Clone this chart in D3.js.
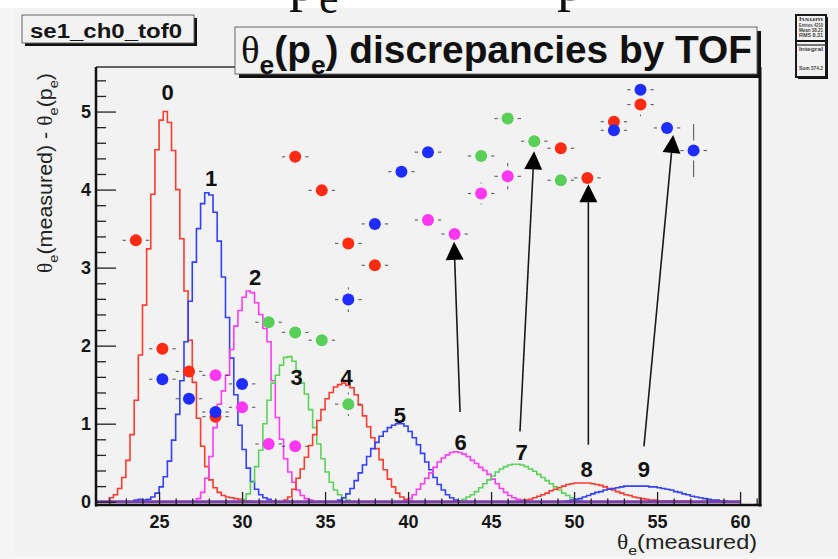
<!DOCTYPE html>
<html>
<head>
<meta charset="utf-8">
<script src="https://cdn.jsdelivr.net/npm/d3@7"></script>
<style>
  body { margin: 0; background: #ffffff; }
  svg { display: block; }
</style>
</head>
<body>
<svg id="chart" width="838" height="559"></svg>
<script>
// ---------------------------------------------------------------
// Data
// ---------------------------------------------------------------

// theta_e(measured) distributions, one histogram per TOF paddle group
const binWidth = 0.25;
const histStart = [22.0, 23.5, 27.25, 30.0, 32.5, 35.75, 39.75, 43.0, 46.75, 49.5];
const hist0 = [0.05,0.09,0.17,0.31,0.53,0.86,1.30,1.88,2.52,3.24,3.94,4.51,4.89,5.00,4.86,4.50,4.00,3.37,2.70,2.07,1.53,1.07,0.71,0.45,0.28,0.18,0.12,0.08,0.06,0.05,0.04,0.03,0.02,0.01];
const hist1 = [0.02,0.03,0.02,0.03,0.06,0.11,0.19,0.32,0.52,0.79,1.12,1.55,2.05,2.57,3.07,3.50,3.82,3.96,3.93,3.71,3.34,2.88,2.36,1.84,1.37,0.98,0.67,0.43,0.26,0.16,0.09,0.05,0.03,0.01];
const hist2 = [0.04,0.12,0.30,0.58,0.95,1.25,1.42,1.62,1.95,2.25,2.45,2.62,2.70,2.68,2.55,2.40,2.22,2.05,1.55,1.08,0.80,0.55,0.38,0.25,0.15,0.08,0.04,0.02];
const hist3 = [0.03,0.10,0.25,0.45,0.66,1.00,1.30,1.52,1.62,1.75,1.85,1.86,1.80,1.68,1.52,1.38,1.18,0.95,0.74,0.55,0.38,0.25,0.15,0.09,0.05,0.02];
const hist4 = [0.02,0.06,0.16,0.30,0.42,0.57,0.72,0.86,1.04,1.18,1.32,1.40,1.47,1.50,1.52,1.49,1.46,1.37,1.24,1.10,0.96,0.82,0.68,0.54,0.41,0.29,0.19,0.11,0.06,0.03,0.01];
const hist5 = [0.02,0.05,0.10,0.17,0.27,0.37,0.47,0.58,0.68,0.76,0.84,0.90,0.95,0.98,1.00,1.00,0.97,0.90,0.82,0.73,0.62,0.51,0.41,0.31,0.22,0.15,0.09,0.05,0.02,0.01];
const hist6 = [0.01,0.04,0.09,0.16,0.23,0.30,0.37,0.44,0.51,0.56,0.60,0.63,0.64,0.63,0.61,0.58,0.53,0.49,0.44,0.40,0.35,0.29,0.23,0.17,0.12,0.08,0.05,0.03,0.02,0.01];
const hist7 = [0.01,0.03,0.06,0.09,0.13,0.18,0.23,0.28,0.33,0.38,0.42,0.45,0.47,0.48,0.48,0.47,0.45,0.42,0.39,0.35,0.31,0.27,0.23,0.19,0.15,0.11,0.08,0.05,0.03,0.01];
const hist8 = [0.01,0.02,0.03,0.05,0.07,0.09,0.11,0.14,0.16,0.18,0.20,0.22,0.23,0.24,0.24,0.24,0.24,0.23,0.22,0.21,0.19,0.17,0.15,0.13,0.11,0.09,0.08,0.06,0.05,0.04,0.03,0.02,0.02,0.01,0.01,0.01,0.01,0.01,0.01,0.01,0.01];
const hist9 = [0.01,0.02,0.03,0.04,0.06,0.08,0.10,0.12,0.13,0.15,0.16,0.17,0.18,0.19,0.20,0.20,0.20,0.20,0.20,0.20,0.19,0.19,0.18,0.17,0.16,0.15,0.13,0.12,0.10,0.09,0.07,0.06,0.05,0.04,0.03,0.02,0.02,0.01,0.01];
const histograms = [hist0, hist1, hist2, hist3, hist4, hist5, hist6, hist7, hist8, hist9];
const histRangeEnd = 60;

// Histogram index labels and where they sit (axis units)
const peakLabels = ["0","1","2","3","4","5","6","7","8","9"];
const peakLabelX = [25.51, 28.13, 30.78, 33.29, 36.30, 39.51, 43.17, 46.84, 50.76, 54.21];
const peakLabelY = [5.15, 4.04, 2.78, 1.50, 1.50, 1.01, 0.66, 0.535, 0.32, 0.32];

// Discrepancy points, theta_e(measured) - theta_e(p_e), per colour group
const ptErrX = 0.8;
const redX = [23.6, 25.2, 26.8, 28.4, 33.2, 34.8, 36.4, 38.0, 49.2, 50.8, 52.4, 54.0];
const redY = [3.35, 1.96, 1.67, 1.09, 4.42, 3.99, 3.31, 3.03, 4.53, 4.15, 4.87, 5.09];
const redEY = [0.04, 0.04, 0.04, 0.05, 0.05, 0.05, 0.06, 0.06, 0.08, 0.10, 0.10, 0.15];
const greenX = [31.6, 33.2, 34.8, 36.4, 44.4, 46.0, 47.6, 49.2];
const greenY = [2.30, 2.17, 2.07, 1.25, 4.43, 4.91, 4.62, 4.12];
const greenEY = [0.05, 0.05, 0.05, 0.15, 0.06, 0.08, 0.08, 0.10];
const magentaX = [28.4, 30.0, 31.6, 33.2, 41.2, 42.8, 44.4, 46.0];
const magentaY = [1.62, 1.21, 0.74, 0.71, 3.61, 3.43, 3.95, 4.17];
const magentaEY = [0.05, 0.05, 0.05, 0.05, 0.06, 0.06, 0.14, 0.17];
const blueX = [25.2, 26.8, 28.4, 30.0, 36.4, 38.0, 39.6, 41.2, 52.4, 54.0, 55.6, 57.2];
const blueY = [1.57, 1.32, 1.15, 1.51, 2.59, 3.56, 4.23, 4.48, 4.76, 5.28, 4.79, 4.50];
const blueEY = [0.04, 0.05, 0.05, 0.05, 0.16, 0.06, 0.06, 0.06, 0.08, 0.10, 0.10, 0.34];

// Arrows from histogram labels 6..9 to their points (axis units)
const arrowX1 = [43.13, 46.74, 50.86, 54.21];
const arrowY1 = [1.15, 0.90, 0.73, 0.71];
const arrowX2 = [42.77, 47.59, 50.86, 55.97];
const arrowY2 = [3.33, 4.49, 4.07, 4.70];

// Axes
const xDomain = [21.2, 61.2];
const yDomain = [-0.042, 5.571];
const xMajorTicks = [25, 30, 35, 40, 45, 50, 55, 60];
const yMajorTicks = [0, 1, 2, 3, 4, 5];

// Statistics box rows
const statRows = ["hsum", "Entries 4210", "Mean 38.21", "RMS 8.31", "Integral", "Sum 374.2"];

// ---------------------------------------------------------------
// Styling
// ---------------------------------------------------------------
const BG = "#f2f2f2";
const SANS = "'Liberation Sans', Arial, Helvetica, sans-serif";
const SERIF = "'Liberation Serif', 'Times New Roman', serif";
const lineColours = ["#ff3b30", "#3240ff", "#ff3cf5", "#5cd25c"];
const markColours = { red: "#ff2a12", blue: "#1e2cff", green: "#58cf58", magenta: "#ff36f2" };

const svg = d3.select("#chart");
const W = 838, H = 559;
const frame = { left: 96, right: 760, top: 67, bottom: 505 };

const x = d3.scaleLinear().domain(xDomain).range([frame.left, frame.right]);
const y = d3.scaleLinear().domain(yDomain).range([frame.bottom, frame.top]);

// canvas
svg.append("rect").attr("width", W).attr("height", H).attr("fill", "#ffffff");
svg.append("rect").attr("x", 0).attr("y", 8).attr("width", W).attr("height", H - 8).attr("fill", BG);
svg.append("rect").attr("x", 0).attr("y", 8).attr("width", 15).attr("height", H - 8).attr("fill", "#f5f5f5");
svg.append("rect").attr("x", 0).attr("y", 556).attr("width", W).attr("height", 3).attr("fill", "#f6f6f6");

// heading line above the canvas (only its lower part shows)
const head = svg.append("g").attr("font-family", SERIF).attr("fill", "#111");
head.append("text").attr("x", 289).attr("y", 0).attr("font-size", 56).text("p");
head.append("text").attr("x", 319).attr("y", 13).attr("font-size", 44).text("e");
head.append("text").attr("x", 557).attr("y", 0).attr("font-size", 56).text("p");

// rich text helper: subscripts and serif greek letters
function rich(sel, parts, size) {
  let shift = 0;
  parts.forEach(p => {
    const ts = sel.append("tspan").text(p.t);
    const target = p.sub ? size * 0.3 : 0;
    if (target !== shift) { ts.attr("dy", target - shift); shift = target; }
    ts.attr("font-size", p.sub ? size * 0.68 : size);
    if (p.serif) ts.attr("font-family", SERIF).attr("font-weight", "normal");
  });
}

// ---------------------------------------------------------------
// Histograms
// ---------------------------------------------------------------
svg.append("clipPath").attr("id", "frameClip")
  .append("rect").attr("x", frame.left).attr("y", frame.top)
  .attr("width", frame.right - frame.left).attr("height", frame.bottom - frame.top);

const plot = svg.append("g").attr("clip-path", "url(#frameClip)");

const stepLine = d3.line().x(d => x(d[0])).y(d => y(d[1])).curve(d3.curveStepAfter);

histograms.forEach((counts, i) => {
  const pts = [[histStart[i], 0]];
  counts.forEach((v, k) => pts.push([histStart[i] + k * binWidth, v]));
  pts.push([histStart[i] + counts.length * binWidth, 0]);
  plot.append("path")
    .attr("d", stepLine(pts))
    .attr("fill", "none")
    .attr("stroke", lineColours[i % 4])
    .attr("stroke-width", 1.6)
    .attr("stroke-linejoin", "miter");
});

// zero level shared by all histograms
plot.append("line")
  .attr("x1", x(xDomain[0])).attr("x2", x(histRangeEnd))
  .attr("y1", y(0)).attr("y2", y(0))
  .attr("stroke", "#7b3cae").attr("stroke-width", 3);

// ---------------------------------------------------------------
// Axes
// ---------------------------------------------------------------
const axisFont = g => g.attr("font-family", SANS).attr("font-weight", "bold").attr("font-size", 18);

const xMinor = d3.range(22, 62).filter(v => v % 5 !== 0);
const yMinor = d3.range(1, 28).map(k => +(k * 0.2).toFixed(1)).filter(v => Math.abs(v - Math.round(v)) > 1e-6);

const gx = svg.append("g").attr("transform", `translate(0,${frame.bottom})`);
gx.append("g").call(d3.axisBottom(x).tickValues(xMinor).tickSizeInner(-6.5).tickSizeOuter(0).tickFormat(""));
gx.append("g").call(d3.axisBottom(x).tickValues(xMajorTicks).tickSizeInner(-13).tickSizeOuter(0)
  .tickPadding(10).tickFormat(d3.format("d"))).call(axisFont);
gx.selectAll(".domain").remove();
gx.selectAll("line").attr("stroke", "#222").attr("stroke-width", 1.3);
gx.selectAll("text").attr("fill", "#151515");

const gy = svg.append("g").attr("transform", `translate(${frame.left},0)`);
gy.append("g").call(d3.axisLeft(y).tickValues(yMinor).tickSizeInner(-10).tickSizeOuter(0).tickFormat(""));
gy.append("g").call(d3.axisLeft(y).tickValues(yMajorTicks).tickSizeInner(-20).tickSizeOuter(0)
  .tickPadding(5).tickFormat(d3.format("d"))).call(axisFont);
gy.selectAll(".domain").remove();
gy.selectAll("line").attr("stroke", "#222").attr("stroke-width", 1.3);
gy.selectAll("text").attr("fill", "#151515");

// frame
svg.append("line").attr("x1", frame.left).attr("x2", frame.right).attr("y1", frame.top).attr("y2", frame.top)
  .attr("stroke", "#333").attr("stroke-width", 1.5);
svg.append("line").attr("x1", frame.right).attr("x2", frame.right).attr("y1", frame.top).attr("y2", frame.bottom + 1.5)
  .attr("stroke", "#111").attr("stroke-width", 3);
svg.append("line").attr("x1", frame.left).attr("x2", frame.left).attr("y1", frame.top).attr("y2", frame.bottom + 1.5)
  .attr("stroke", "#111").attr("stroke-width", 2.5);
svg.append("line").attr("x1", frame.left - 1).attr("x2", frame.right + 1.5).attr("y1", frame.bottom).attr("y2", frame.bottom)
  .attr("stroke", "#111").attr("stroke-width", 2.5);

// axis titles
const xTitle = svg.append("text").attr("x", 757).attr("y", 549).attr("text-anchor", "end")
  .attr("font-family", SANS).attr("fill", "#222")
  .attr("textLength", 140).attr("lengthAdjust", "spacingAndGlyphs");
rich(xTitle, [{ t: "θ", serif: true }, { t: "e", sub: true }, { t: "(measured)" }], 20);

const yTitle = svg.append("text").attr("transform", "translate(52,73) rotate(-90)").attr("text-anchor", "end")
  .attr("font-family", SANS).attr("fill", "#222")
  .attr("textLength", 200).attr("lengthAdjust", "spacingAndGlyphs");
rich(yTitle, [{ t: "θ", serif: true }, { t: "e", sub: true }, { t: "(measured) - " },
              { t: "θ", serif: true }, { t: "e", sub: true }, { t: "(p" }, { t: "e", sub: true }, { t: ")" }], 20);

// ---------------------------------------------------------------
// Points with error bars
// ---------------------------------------------------------------
const markerR = 6, errGap = 10;
function drawSeries(xs, ys, eys, colour) {
  const g = svg.append("g");
  xs.forEach((xv, i) => {
    const cx = x(xv), cy = y(ys[i]);
    const segs = [
      [x(xv - ptErrX), cy, cx - errGap, cy],
      [cx + errGap, cy, x(xv + ptErrX), cy]
    ];
    if (y(ys[i] - eys[i]) - cy > errGap) {
      segs.push([cx, y(ys[i] + eys[i]), cx, cy - errGap]);
      segs.push([cx, cy + errGap, cx, y(ys[i] - eys[i])]);
    }
    segs.forEach(s => g.append("line")
      .attr("x1", s[0]).attr("y1", s[1]).attr("x2", s[2]).attr("y2", s[3])
      .attr("stroke", "#3a3a3a").attr("stroke-width", 1.1).attr("stroke-opacity", 0.8));
  });
  g.selectAll("circle").data(xs).join("circle")
    .attr("cx", d => x(d)).attr("cy", (d, i) => y(ys[i]))
    .attr("r", markerR).attr("fill", colour);
}
drawSeries(redX, redY, redEY, markColours.red);
drawSeries(greenX, greenY, greenEY, markColours.green);
drawSeries(magentaX, magentaY, magentaEY, markColours.magenta);
drawSeries(blueX, blueY, blueEY, markColours.blue);

// ---------------------------------------------------------------
// Arrows
// ---------------------------------------------------------------
const headLen = 18, headHalf = 9;
arrowX1.forEach((_, i) => {
  const x1 = x(arrowX1[i]), y1 = y(arrowY1[i]);
  const x2 = x(arrowX2[i]), y2 = y(arrowY2[i]);
  const L = Math.hypot(x2 - x1, y2 - y1);
  const ux = (x2 - x1) / L, uy = (y2 - y1) / L;
  const bx = x2 - ux * headLen, by = y2 - uy * headLen;
  svg.append("line").attr("x1", x1).attr("y1", y1).attr("x2", bx).attr("y2", by)
    .attr("stroke", "#1a1a1a").attr("stroke-width", 1.6);
  svg.append("path")
    .attr("d", `M${x2},${y2}L${bx - uy * headHalf},${by + ux * headHalf}L${bx + uy * headHalf},${by - ux * headHalf}Z`)
    .attr("fill", "#000");
});

// ---------------------------------------------------------------
// Histogram labels
// ---------------------------------------------------------------
svg.append("g").selectAll("text").data(peakLabels).join("text")
  .attr("x", (d, i) => x(peakLabelX[i])).attr("y", (d, i) => y(peakLabelY[i]))
  .attr("text-anchor", "middle")
  .attr("font-family", SANS).attr("font-weight", "bold").attr("font-size", 22)
  .attr("fill", "#111").text(d => d);

// ---------------------------------------------------------------
// Title and boxes
// ---------------------------------------------------------------
function shadowBox(bx, by, bw, bh, off, stroke, sw) {
  svg.append("rect").attr("x", bx + off).attr("y", by + off).attr("width", bw).attr("height", bh).attr("fill", "#111");
  svg.append("rect").attr("x", bx).attr("y", by).attr("width", bw).attr("height", bh)
    .attr("fill", BG).attr("stroke", stroke || "#666").attr("stroke-width", sw || 1);
}

shadowBox(235, 27, 522, 47, 4);
const title = svg.append("text").attr("x", 241).attr("y", 63)
  .attr("font-family", SANS).attr("font-weight", "bold").attr("fill", "#111")
  .attr("textLength", 511).attr("lengthAdjust", "spacingAndGlyphs");
rich(title, [{ t: "θ", serif: true }, { t: "e", sub: true }, { t: "(p" }, { t: "e", sub: true },
             { t: ") discrepancies by TOF" }], 38);

shadowBox(22, 15, 172, 28, 3);
svg.append("text").attr("x", 30).attr("y", 38)
  .attr("font-family", SANS).attr("font-weight", "bold").attr("font-size", 20)
  .attr("textLength", 152).attr("lengthAdjust", "spacingAndGlyphs")
  .attr("fill", "#151515").text("se1_ch0_tof0");

// statistics box
shadowBox(796, 15, 30, 62, 2, "#1a1a1a", 2);
svg.append("line").attr("x1", 796).attr("x2", 826).attr("y1", 41).attr("y2", 41).attr("stroke", "#111").attr("stroke-width", 2);
svg.append("line").attr("x1", 796).attr("x2", 826).attr("y1", 45).attr("y2", 45).attr("stroke", "#222").attr("stroke-width", 1.2);
const statY = [21, 26.5, 31.5, 36.5, 51, 70];
svg.append("g").selectAll("text").data(statRows).join("text")
  .attr("x", 799).attr("y", (d, i) => statY[i])
  .attr("font-family", SANS).attr("font-weight", "bold").attr("font-size", 4.5).attr("fill", "#444")
  .attr("textLength", 24).attr("lengthAdjust", "spacingAndGlyphs")
  .text(d => d);
</script>
</body>
</html>
